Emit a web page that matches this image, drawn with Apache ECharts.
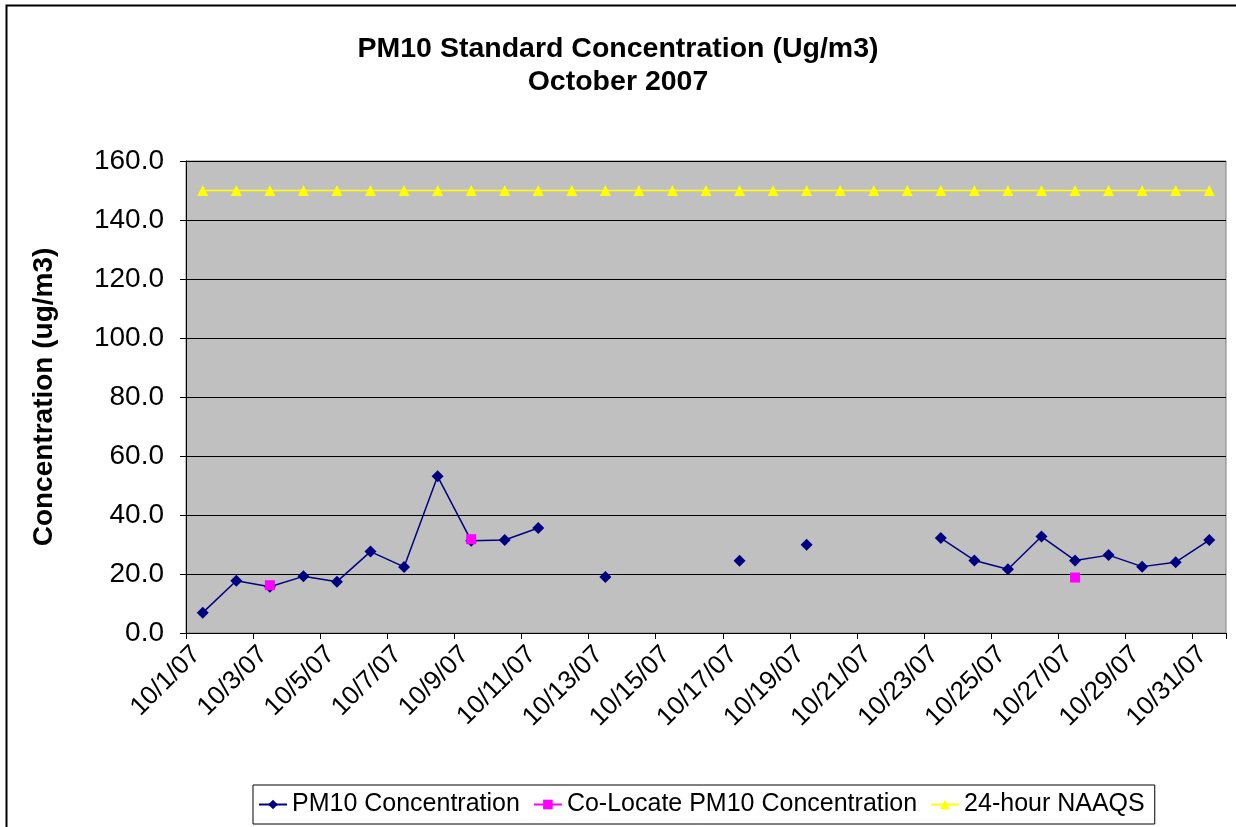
<!DOCTYPE html>
<html>
<head>
<meta charset="utf-8">
<script src="https://cdn.jsdelivr.net/npm/echarts@6/dist/echarts.min.js"></script>
<style>
html,body{margin:0;padding:0;background:#fff;}
#c{width:1236px;height:827px;}
</style>
</head>
<body>
<div id="c"></div>
<script>
const categories = ['10/1/07','10/2/07','10/3/07','10/4/07','10/5/07','10/6/07','10/7/07','10/8/07','10/9/07','10/10/07',
  '10/11/07','10/12/07','10/13/07','10/14/07','10/15/07','10/16/07','10/17/07','10/18/07','10/19/07','10/20/07',
  '10/21/07','10/22/07','10/23/07','10/24/07','10/25/07','10/26/07','10/27/07','10/28/07','10/29/07','10/30/07','10/31/07'];
const pm10 = [6.9,17.7,15.7,19.2,17.4,27.6,22.4,53.1,31.3,31.5,
  35.6,null,19.0,null,null,null,24.5,null,29.9,null,
  null,null,32.2,24.6,21.6,32.7,24.6,26.4,22.5,24.0,31.5];
const colocate = [null,null,16.2,null,null,null,null,null,31.8,null,
  null,null,null,null,null,null,null,null,null,null,
  null,null,null,null,null,null,18.8,null,null,null,null];
const naaqs = [150,150,150,150,150,150,150,150,150,150,
  150,150,150,150,150,150,150,150,150,150,
  150,150,150,150,150,150,150,150,150,150,150];
const yTicks = {min:0, max:160, interval:20};

const FONT = "'Liberation Sans', Arial, sans-serif";
const chart = echarts.init(document.getElementById('c'), null, {renderer:'canvas'});
chart.setOption({
  backgroundColor:'#ffffff',
  animation:false,
  textStyle:{fontFamily:FONT},
  title:{
    text:'PM10 Standard Concentration (Ug/m3)\nOctober 2007',
    left:'center', top:28,
    textStyle:{fontFamily:FONT, fontSize:28.5, fontWeight:'bold', color:'#000', lineHeight:33}
  },
  graphic:[{
    type:'rect', silent:true, z:-1,
    shape:{x:6.5, y:5.5, width:1300, height:900},
    style:{fill:'none', stroke:'#000', lineWidth:2}
  }],
  legend:{
    left:253, top:785,
    borderColor:'#000', borderWidth:1,
    padding:[7,10,7,5],
    itemGap:13, itemWidth:28, itemHeight:12,
    textStyle:{fontFamily:FONT, fontSize:25, color:'#000'},
    data:['PM10 Concentration','Co-Locate PM10 Concentration','24-hour NAAQS']
  },
  grid:{
    left:186, top:161, right:10, bottom:194,
    show:true, backgroundColor:'#C0C0C0', borderColor:'#808080', borderWidth:1
  },
  xAxis:{
    type:'category', data:categories, boundaryGap:true,
    axisLine:{show:true, lineStyle:{color:'#000', width:1}},
    axisTick:{show:true, interval:1, length:6, inside:false, lineStyle:{color:'#000'}},
    axisLabel:{interval:1, rotate:45, margin:11, padding:[0,9,0,0], fontFamily:FONT, fontSize:26, color:'#000'},
    splitLine:{show:false}
  },
  yAxis:{
    type:'value', min:yTicks.min, max:yTicks.max, interval:yTicks.interval,
    name:'Concentration (ug/m3)', nameLocation:'middle', nameGap:128,
    nameTextStyle:{fontFamily:FONT, fontSize:28, fontWeight:'bold', color:'#000'},
    axisLine:{show:true, lineStyle:{color:'#000', width:1}},
    axisTick:{show:true, length:6, lineStyle:{color:'#000'}},
    axisLabel:{margin:22, fontFamily:FONT, fontSize:28, color:'#000', formatter:v=>v.toFixed(1)},
    splitLine:{show:true, lineStyle:{color:'#000', width:1}}
  },
  series:[
    {name:'PM10 Concentration', type:'line', data:pm10, connectNulls:false,
     symbol:'diamond', symbolSize:12, showAllSymbol:true,
     itemStyle:{color:'#000080'}, lineStyle:{color:'#000080', width:1.5}, z:3},
    {name:'Co-Locate PM10 Concentration', type:'line', data:colocate, connectNulls:false,
     symbol:'rect', symbolSize:10, showAllSymbol:true,
     itemStyle:{color:'#FF00FF'}, lineStyle:{color:'#FF00FF', width:1.5}, z:4},
    {name:'24-hour NAAQS', type:'line', data:naaqs,
     symbol:'triangle', symbolSize:11, showAllSymbol:true,
     itemStyle:{color:'#FFFF00'}, lineStyle:{color:'#FFFF00', width:1.5}, z:2}
  ]
});
</script>
</body>
</html>
